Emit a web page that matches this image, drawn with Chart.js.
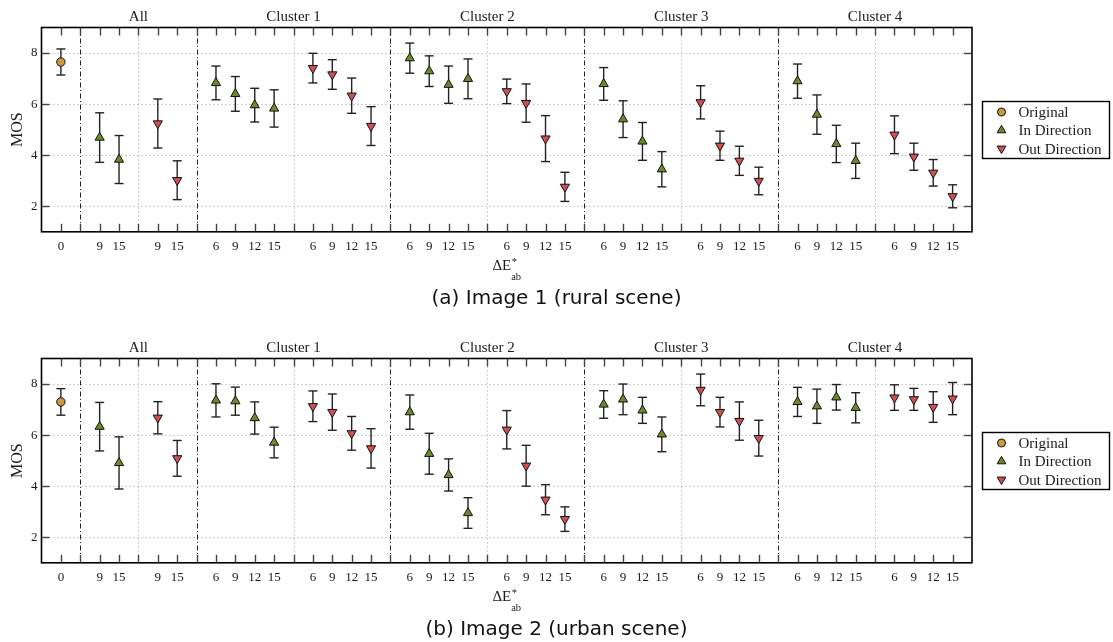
<!DOCTYPE html>
<html>
<head>
<meta charset="utf-8">
<title>MOS per cluster</title>
<script src="https://cdn.jsdelivr.net/npm/chart.js@4.4.1/dist/chart.umd.min.js"></script>
<style>
  html, body { margin: 0; padding: 0; background: #fff; }
  .panel { position: absolute; left: 0; width: 1113px; height: 311px; }
</style>
</head>
<body>
<div class="panel" style="top:0"><canvas id="rural" width="1113" height="311"></canvas></div>
<div class="panel" style="top:331px"><canvas id="urban" width="1113" height="311"></canvas></div>
<script>
"use strict";

const GROUPS = ["All", "Cluster 1", "Cluster 2", "Cluster 3", "Cluster 4"];
const ALL_LEVELS = [9, 15];
const CLUSTER_LEVELS = [6, 9, 12, 15];
const Y_TICKS = [2, 4, 6, 8];

// image 1, rural scene
const RURAL_ORIG = [7.65];
const RURAL_ORIG_ERR = [0.51];
const RURAL_IN = [4.69, 3.83, 6.83, 6.40, 5.96, 5.83, 7.80, 7.29, 6.76, 6.99,
                  6.79, 5.41, 4.54, 3.45, 6.90, 5.59, 4.44, 3.78];
const RURAL_IN_ERR = [0.97, 0.94, 0.66, 0.68, 0.66, 0.73, 0.59, 0.60, 0.73, 0.78,
                      0.64, 0.72, 0.74, 0.69, 0.67, 0.77, 0.73, 0.69];
const RURAL_OUT = [5.24, 3.02, 7.41, 7.16, 6.33, 5.14, 6.50, 6.04, 4.65, 2.76,
                   6.07, 4.37, 3.78, 2.99, 4.80, 3.94, 3.31, 2.39];
const RURAL_OUT_ERR = [0.96, 0.76, 0.58, 0.58, 0.69, 0.76, 0.48, 0.75, 0.90, 0.57,
                       0.65, 0.57, 0.57, 0.54, 0.74, 0.53, 0.52, 0.45];

// image 2, urban scene
const URBAN_ORIG = [7.30];
const URBAN_ORIG_ERR = [0.52];
const URBAN_IN = [6.33, 4.91, 7.36, 7.33, 6.67, 5.71, 6.90, 5.27, 4.44, 2.95,
                  7.20, 7.40, 6.97, 6.03, 7.30, 7.13, 7.48, 7.07];
const URBAN_IN_ERR = [0.95, 1.02, 0.65, 0.55, 0.63, 0.60, 0.67, 0.80, 0.63, 0.60,
                      0.54, 0.60, 0.51, 0.68, 0.57, 0.67, 0.50, 0.59];
const URBAN_OUT = [6.68, 5.09, 7.13, 6.90, 6.07, 5.48, 6.21, 4.80, 3.47, 2.71,
                   7.77, 6.90, 6.55, 5.88, 7.47, 7.40, 7.10, 7.43];
const URBAN_OUT_ERR = [0.63, 0.70, 0.60, 0.71, 0.66, 0.77, 0.75, 0.80, 0.59, 0.48,
                       0.62, 0.58, 0.75, 0.70, 0.50, 0.43, 0.60, 0.63];

const SERIF = "'Liberation Serif', 'Times New Roman', serif";
const SANS = "'DejaVu Sans', Verdana, sans-serif";
const INK = "#1a1a1a";
const ORANGE = "#c99a42";
const GREEN = "#6b8b2b";
const RED = "#d24f4f";

// x slots: original at 1, the "All" directions at 3-4 and 6-7,
// then ten slots per cluster (4 in, separator, 4 out, separator)
const X_MAX = 48;
const ORIG_X = [1];
function directionSlots(dir) {
  const xs = ALL_LEVELS.map((_, i) => 3 + dir * 3 + i);
  for (let c = 1; c < GROUPS.length; c++) {
    const start = 8 + 10 * (c - 1) + 1 + dir * 5;
    CLUSTER_LEVELS.forEach((_, i) => xs.push(start + i));
  }
  return xs;
}
const IN_X = directionSlots(0);
const OUT_X = directionSlots(1);

const LEVELS = ALL_LEVELS.slice();
for (let c = 1; c < GROUPS.length; c++) LEVELS.push(...CLUSTER_LEVELS);

const TICK_LABELS = new Array(X_MAX + 1).fill("");
TICK_LABELS[ORIG_X[0]] = "0";
IN_X.forEach((x, i) => { TICK_LABELS[x] = String(LEVELS[i]); });
OUT_X.forEach((x, i) => { TICK_LABELS[x] = String(LEVELS[i]); });

const GROUP_LINES = [2, 8, 18, 28, 38];       // dash-dot
const DIRECTION_LINES = [5, 13, 23, 33, 43];  // dotted, also title centres

function points(xs, ys) {
  return ys.map((v, i) => ({x: xs[i], y: v}));
}

function vline(ctx, x, top, bottom) {
  ctx.beginPath();
  ctx.moveTo(x, top);
  ctx.lineTo(x, bottom);
  ctx.stroke();
}

function hline(ctx, y, left, right) {
  ctx.beginPath();
  ctx.moveTo(left, y);
  ctx.lineTo(right, y);
  ctx.stroke();
}

const panelDecor = {
  id: "panelDecor",

  beforeDatasetsDraw(chart) {
    const {ctx, chartArea: a, scales: {x, y}} = chart;
    ctx.save();

    ctx.lineWidth = 1;
    ctx.strokeStyle = "#9c9c9c";
    ctx.setLineDash([1, 3]);
    for (const v of Y_TICKS) {
      hline(ctx, Math.round(y.getPixelForValue(v)) + 0.5, a.left, a.right);
    }
    for (const s of DIRECTION_LINES) {
      vline(ctx, Math.round(x.getPixelForValue(s)) + 0.5, a.top, a.bottom);
    }
    ctx.strokeStyle = "#222";
    ctx.setLineDash([5, 2.5, 1, 2.5]);
    for (const s of GROUP_LINES) {
      vline(ctx, Math.round(x.getPixelForValue(s)) + 0.5, a.top, a.bottom);
    }

    // error bars
    ctx.setLineDash([]);
    ctx.strokeStyle = "#222";
    ctx.lineWidth = 1.4;
    chart.data.datasets.forEach((ds) => {
      ds.data.forEach((p, i) => {
        const e = ds.errors[i];
        const px = x.getPixelForValue(p.x);
        const hi = y.getPixelForValue(p.y + e);
        const lo = y.getPixelForValue(p.y - e);
        vline(ctx, px, hi, lo);
        hline(ctx, hi, px - 4.5, px + 4.5);
        hline(ctx, lo, px - 4.5, px + 4.5);
      });
    });
    ctx.restore();
  },

  afterDraw(chart, args, opts) {
    const {ctx, chartArea: a, scales: {x, y}} = chart;
    ctx.save();

    // inward ticks on all four sides
    ctx.strokeStyle = "#444";
    ctx.lineWidth = 1.4;
    for (let i = 1; i < X_MAX; i++) {
      const px = Math.round(x.getPixelForValue(i)) + 0.5;
      vline(ctx, px, a.top, a.top + 8);
      vline(ctx, px, a.bottom - 8, a.bottom);
    }
    for (const v of Y_TICKS) {
      const py = Math.round(y.getPixelForValue(v)) + 0.5;
      hline(ctx, py, a.left, a.left + 8);
      hline(ctx, py, a.right - 8, a.right);
    }

    ctx.strokeStyle = "#000";
    ctx.lineWidth = 1.6;
    ctx.strokeRect(a.left, a.top, a.right - a.left, a.bottom - a.top);

    // group titles
    ctx.fillStyle = INK;
    ctx.textAlign = "center";
    ctx.textBaseline = "alphabetic";
    ctx.font = "15px " + SERIF;
    GROUPS.forEach((g, i) => {
      ctx.fillText(g, x.getPixelForValue(DIRECTION_LINES[i]), a.top - 6.5);
    });

    // x axis label: ΔE*ab
    const cx = (a.left + a.right) / 2;
    const base = a.bottom + 38.5;
    ctx.font = "15px " + SERIF;
    const wMain = ctx.measureText("\u0394E").width;
    ctx.font = "10.5px " + SERIF;
    const wSub = ctx.measureText("ab").width;
    const x0 = cx - (wMain + wSub) / 2;
    ctx.textAlign = "left";
    ctx.font = "15px " + SERIF;
    ctx.fillText("\u0394E", x0, base);
    ctx.font = "10.5px " + SERIF;
    ctx.fillText("ab", x0 + wMain, base + 9.5);
    ctx.fillText("*", x0 + wMain + 0.5, base - 5);

    // caption under the panel
    ctx.textAlign = "center";
    ctx.fillStyle = "#111";
    ctx.font = "20px " + SANS;
    ctx.fillText(opts.caption, chart.width / 2, a.bottom + 72);

    // legend
    const bw = 127, bh = 57;
    const bx = a.right + 10.5;
    const by = Math.round((a.top + a.bottom) / 2 - bh / 2) + 0.5;
    ctx.fillStyle = "#fff";
    ctx.fillRect(bx, by, bw, bh);
    ctx.strokeStyle = "#000";
    ctx.lineWidth = 1.4;
    ctx.strokeRect(bx, by, bw, bh);
    ctx.font = "15px " + SERIF;
    ctx.textAlign = "left";
    ctx.textBaseline = "middle";
    chart.data.datasets.forEach((ds, i) => {
      const ry = by + 10.5 + i * 18.3;
      ctx.fillStyle = ds.pointBackgroundColor;
      ctx.strokeStyle = ds.pointBorderColor;
      ctx.lineWidth = ds.pointBorderWidth;
      Chart.helpers.drawPoint(ctx, {
        pointStyle: ds.pointStyle,
        rotation: ds.pointRotation || 0,
        radius: ds.pointStyle === "circle" ? 4 : 5,
        borderWidth: ds.pointBorderWidth
      }, bx + 19, ry);
      ctx.fillStyle = INK;
      ctx.fillText(ds.label, bx + 36, ry + 1);
    });
    ctx.restore();
  }
};

function makePanel(canvasId, caption, orig, origErr, inVals, inErr, outVals, outErr) {
  const ctx = document.getElementById(canvasId).getContext("2d");
  return new Chart(ctx, {
    type: "scatter",
    data: {
      datasets: [
        {
          label: "Original",
          data: points(ORIG_X, orig),
          errors: origErr,
          pointStyle: "circle",
          pointRadius: 4.2,
          pointBackgroundColor: ORANGE,
          pointBorderColor: "#111",
          pointBorderWidth: 1
        },
        {
          label: "In Direction",
          data: points(IN_X, inVals),
          errors: inErr,
          pointStyle: "triangle",
          pointRadius: 5.3,
          pointBackgroundColor: GREEN,
          pointBorderColor: "#111",
          pointBorderWidth: 1
        },
        {
          label: "Out Direction",
          data: points(OUT_X, outVals),
          errors: outErr,
          pointStyle: "triangle",
          pointRotation: 180,
          pointRadius: 5.3,
          pointBackgroundColor: RED,
          pointBorderColor: "#111",
          pointBorderWidth: 1
        }
      ]
    },
    options: {
      responsive: false,
      animation: false,
      events: [],
      layout: {padding: {left: 0, right: 141, top: 27.5, bottom: 49.2}},
      plugins: {
        legend: {display: false},
        tooltip: {enabled: false},
        panelDecor: {caption: caption}
      },
      scales: {
        x: {
          type: "linear",
          min: 0,
          max: X_MAX,
          afterBuildTicks: (s) => { s.ticks = TICK_LABELS.map((_, i) => ({value: i})); },
          afterFit: (s) => { s.height = 30; },
          grid: {display: false, drawTicks: false},
          border: {display: false},
          ticks: {
            autoSkip: false,
            maxRotation: 0,
            padding: 7,
            color: INK,
            font: {family: SERIF, size: 13},
            callback: (v) => TICK_LABELS[v] || ""
          }
        },
        y: {
          type: "linear",
          min: 1,
          max: 9,
          afterBuildTicks: (s) => { s.ticks = Y_TICKS.map((v) => ({value: v})); },
          afterFit: (s) => { s.width = 41.5; },
          grid: {display: false, drawTicks: false},
          border: {display: false},
          ticks: {padding: 4, color: INK, font: {family: SERIF, size: 13}},
          title: {
            display: true,
            text: "MOS",
            color: INK,
            font: {family: SERIF, size: 16},
            padding: {top: 8, bottom: 0}
          }
        }
      }
    },
    plugins: [panelDecor]
  });
}

makePanel("rural", "(a) Image 1 (rural scene)",
          RURAL_ORIG, RURAL_ORIG_ERR, RURAL_IN, RURAL_IN_ERR, RURAL_OUT, RURAL_OUT_ERR);
makePanel("urban", "(b) Image 2 (urban scene)",
          URBAN_ORIG, URBAN_ORIG_ERR, URBAN_IN, URBAN_IN_ERR, URBAN_OUT, URBAN_OUT_ERR);
</script>
</body>
</html>
